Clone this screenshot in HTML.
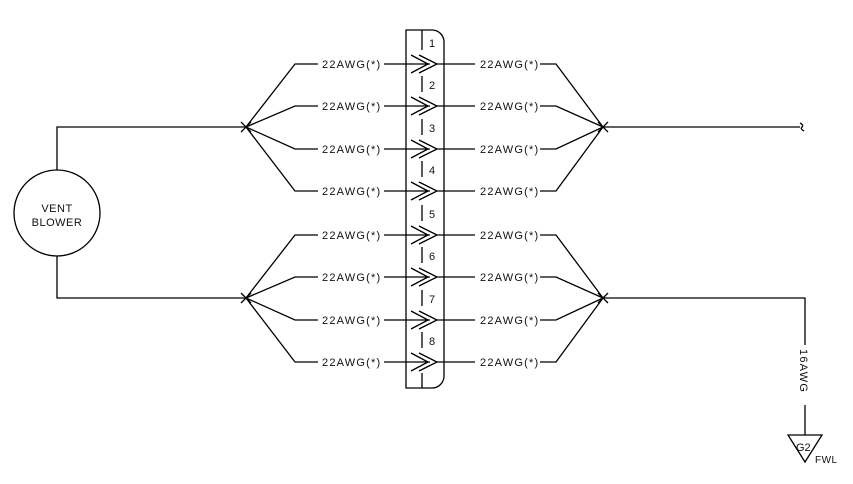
<!DOCTYPE html>
<html><head><style>body{margin:0;background:#fff}svg{display:block}text{font-family:"Liberation Sans",sans-serif;font-size:11px;fill:#111}.w{letter-spacing:1.2px}</style></head>
<body>
<svg width="853" height="484" viewBox="0 0 853 484" xmlns="http://www.w3.org/2000/svg">
<g stroke="#000" stroke-width="1.3" fill="none">
<circle cx="57" cy="213" r="43"/>
<polyline points="57,170 57,127 246,127"/>
<polyline points="57,256 57,298 246,298"/>
<path d="M406,388 V30 H432 A12,12 0 0 1 444,42 V376 A12,12 0 0 1 432,388 Z"/>
<line x1="603" y1="127" x2="800" y2="127"/>
<path d="M800,123 q4,2 2,4 q-2,2 2,4"/>
<polyline points="603,298 805,298 805,345"/>
<line x1="805" y1="405" x2="805" y2="435"/>
<polygon points="788,435 822,435 805,462"/>
<path d="M241,122 l10,10 M241,132 l10,-10 M598,122 l10,10 M598,132 l10,-10 M241,293 l10,10 M241,303 l10,-10 M598,293 l10,10 M598,303 l10,-10"/>

<path d="M246,127 L295,64 H318 M246,127 L295,106 H318 M246,127 L295,149 H318 M246,127 L295,191 H318
M246,298 L295,235 H318 M246,298 L295,277 H318 M246,298 L295,320 H318 M246,298 L295,362 H318"/>
<path d="M384,64 H430 M384,106 H430 M384,149 H430 M384,191 H430 M384,235 H430 M384,277 H430 M384,320 H430 M384,362 H430"/>
<path d="M437,64 H475 M437,106 H475 M437,149 H475 M437,191 H475 M437,235 H475 M437,277 H475 M437,320 H475 M437,362 H475"/>
<path d="M540,64 H556 L603,127 M540,106 H556 L603,127 M540,149 H556 L603,127 M540,191 H556 L603,127
M540,235 H556 L603,298 M540,277 H556 L603,298 M540,320 H556 L603,298 M540,362 H556 L603,298"/>
<path d="M411,55 L428,64 L411,73 M419,55 L437,64 L419,73
M411,97 L428,106 L411,115 M419,97 L437,106 L419,115
M411,140 L428,149 L411,158 M419,140 L437,149 L419,158
M411,182 L428,191 L411,200 M419,182 L437,191 L419,200
M411,226 L428,235 L411,244 M419,226 L437,235 L419,244
M411,268 L428,277 L411,286 M419,268 L437,277 L419,286
M411,311 L428,320 L411,329 M419,311 L437,320 L419,329
M411,353 L428,362 L411,371 M419,353 L437,362 L419,371"/>
<path d="M422,30 V50 M422,76 V92 M422,119 V135 M422,161 V177 M422,205 V221 M422,247 V263 M422,290 V306 M422,332 V348 M422,373 V388"/>
</g>
<text x="57" y="212" text-anchor="middle" class="w" style="letter-spacing:0.5px">VENT</text>
<text x="57" y="226" text-anchor="middle" style="letter-spacing:0.5px">BLOWER</text>
<text x="796" y="451" style="font-size:11px">G2</text>
<text x="815" y="463" style="font-size:10px;letter-spacing:0.5px">FWL</text>
<text transform="translate(800,349) rotate(90)" class="w">16AWG</text>
<g class="w">
<text x="322" y="68">22AWG(*)</text><text x="480" y="68">22AWG(*)</text>
<text x="322" y="110">22AWG(*)</text><text x="480" y="110">22AWG(*)</text>
<text x="322" y="153">22AWG(*)</text><text x="480" y="153">22AWG(*)</text>
<text x="322" y="195">22AWG(*)</text><text x="480" y="195">22AWG(*)</text>
<text x="322" y="239">22AWG(*)</text><text x="480" y="239">22AWG(*)</text>
<text x="322" y="281">22AWG(*)</text><text x="480" y="281">22AWG(*)</text>
<text x="322" y="324">22AWG(*)</text><text x="480" y="324">22AWG(*)</text>
<text x="322" y="366">22AWG(*)</text><text x="480" y="366">22AWG(*)</text>
</g>
<text x="429" y="47">1</text><text x="429" y="89">2</text><text x="429" y="132">3</text><text x="429" y="174">4</text>
<text x="429" y="218">5</text><text x="429" y="260">6</text><text x="429" y="303">7</text><text x="429" y="345">8</text>
</svg>
</body></html>
